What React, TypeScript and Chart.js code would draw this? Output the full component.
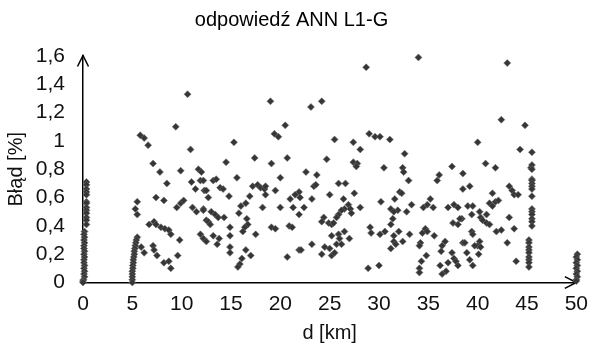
import { useEffect, useRef } from 'react';
import { Chart, registerables } from 'chart.js';

Chart.register(...registerables);

const chartTitle = 'odpowiedź ANN L1-G';
const xAxisTitle = 'd [km]';
const yAxisTitle = 'Błąd [%]';
const xMin = 0;
const xMax = 50;
const xStep = 5;
const yMin = 0;
const yMax = 1.6;
const yStep = 0.2;

// column of points at d = 0 km
const col0X = [0.35, 0.35, 0.35, 0.35, 0.35, 0.35, 0.35, 0.35, 0.35, 0.35, 0.35, 0.35, 0.35,
  0.15, 0.1, 0.15, 0.1, 0.15, 0.1, 0.1, 0.15, 0.1, 0.15, 0.1, 0.1, 0.15, 0.1, 0.15, 0.1, 0.15, 0.05, 0.0, 0.0];
const col0Y = [0.71, 0.69, 0.66, 0.64, 0.62, 0.57, 0.56, 0.53, 0.51, 0.49, 0.46, 0.44, 0.41,
  0.36, 0.34, 0.32, 0.3, 0.28, 0.26, 0.24, 0.22, 0.2, 0.18, 0.16, 0.14, 0.12, 0.1, 0.08, 0.06, 0.04, 0.02, 0.01, 0.0];

// column of points at d = 5 km
const col5X = [5.5, 5.3, 5.5, 5.5, 5.4, 5.35, 5.3, 5.25, 5.2, 5.2, 5.15, 5.1, 5.1, 5.05, 5.05, 5.0, 5.0, 5.0, 5.0, 5.0];
const col5Y = [0.57, 0.52, 0.48, 0.32, 0.3, 0.28, 0.26, 0.24, 0.22, 0.2, 0.18, 0.16, 0.14, 0.12, 0.1, 0.08, 0.06, 0.04, 0.02, 0.0];

// column of points at d = 45 km
const col45X = [45.5, 45.4, 45.5, 45.5, 45.5, 45.5, 45.5, 45.5, 45.5, 45.5, 45.5, 45.5, 45.5, 45.5, 45.5, 45.5,
  45.2, 45.2, 45.2, 45.2, 45.2, 45.2, 45.2, 45.2, 45.2];
const col45Y = [0.92, 0.81, 0.83, 0.8, 0.73, 0.72, 0.7, 0.68, 0.66, 0.61, 0.52, 0.5, 0.48, 0.45, 0.43, 0.4,
  0.3, 0.28, 0.25, 0.23, 0.21, 0.18, 0.16, 0.14, 0.11];

// column of points at d = 50 km
const col50X = [50.1, 50.0, 50.1, 50.0, 50.1, 50.0, 50.1, 50.0, 50.1, 50.0, 50.0];
const col50Y = [0.2, 0.18, 0.16, 0.14, 0.12, 0.1, 0.08, 0.06, 0.04, 0.02, 0.01];

// scattered points
const scatterX = [
  10.6, 9.4, 5.8, 6.2, 6.6, 10.9, 7.1, 11.7,
  19.0, 23.1, 24.2, 20.5, 19.4, 19.8, 15.3, 25.5, 14.5, 17.4, 19.1, 20.7, 24.7,
  28.7, 34.0, 27.4, 28.1, 29.0, 29.6, 30.1, 31.1, 32.6, 27.4, 27.8, 30.5, 32.4, 37.4,
  43.0, 42.4, 44.8, 40.0, 44.3, 40.8, 41.8,
  5.9, 6.2, 6.7, 7.2, 7.4, 7.9, 8.3, 8.7, 8.9, 7.1, 7.2, 7.5, 8.2, 8.7, 8.9, 9.6, 9.8, 7.4, 8.2, 9.5, 9.9, 10.2,
  7.8, 8.5, 9.9, 11.0, 11.9, 11.4, 12.3, 11.1, 11.5, 12.2, 12.5, 11.9, 12.2, 12.5, 12.0,
  12.2, 13.2, 13.5, 15.6, 12.5, 12.7, 13.9, 14.2, 14.8, 17.2, 17.7, 18.0, 18.4, 18.5, 18.5, 16.9, 20.0, 19.5,
  22.6, 23.7, 23.4, 23.6, 21.9, 21.5, 21.0, 22.0, 23.2, 25.0, 16.5, 16.0, 15.8, 18.2, 20.0, 21.3, 22.4, 21.9,
  12.2, 13.0, 13.4, 13.7, 14.3, 12.7, 12.9, 14.9, 16.6, 16.7, 16.4, 16.2, 17.5, 19.1, 19.5, 20.9, 21.2,
  13.2, 13.8, 13.6, 14.9, 14.9, 14.9, 16.5, 17.0, 16.1, 15.9, 15.7, 20.7, 21.9, 22.1, 23.2, 24.2, 24.5, 25.0,
  25.2, 25.5, 24.4, 24.9, 25.2, 24.2,
  27.7, 32.5, 33.0, 35.9, 36.1, 38.5, 38.5, 25.9, 26.6, 27.5, 26.4, 26.9, 26.5, 26.2, 27.1, 28.1, 25.9, 25.7,
  25.4, 27.2, 30.2, 31.6, 32.1, 32.3, 31.2, 31.9, 31.5, 31.4, 31.2, 32.8, 33.3, 34.5, 35.2, 34.9, 35.5, 37.0,
  37.6, 38.0, 38.4, 37.5, 38.0, 29.1, 29.2, 30.1, 30.6, 31.5, 31.5, 31.7, 31.2, 32.0, 32.4, 33.1, 34.4, 34.7,
  34.9, 35.6, 34.2, 34.1, 34.8, 34.3, 34.1, 34.1, 28.9, 30.0, 36.7, 36.4, 36.3, 37.4, 37.6, 37.0, 37.8, 38.0,
  36.2, 36.8, 36.4, 38.5, 25.2, 25.9, 25.7, 26.2, 26.5, 27.0, 26.0,
  39.2, 43.2, 43.5, 43.7, 44.1, 41.5, 41.2, 41.5, 41.8, 42.1, 39.0, 39.5, 39.4, 40.2, 40.3, 40.9, 40.5, 40.9,
  41.2, 38.2, 43.2, 41.9, 42.4, 43.7, 39.4, 39.5, 40.2, 40.0, 40.3, 39.7, 38.7, 43.0, 38.9, 40.1, 39.2, 39.5, 43.9,
];
const scatterY = [
  1.33, 1.1, 1.04, 1.02, 0.97, 0.94, 0.84, 0.8,
  1.28, 1.24, 1.28, 1.11, 1.05, 1.03, 0.99, 1.01, 0.85, 0.88, 0.84, 0.88, 0.87,
  1.52, 1.59, 0.99, 0.94, 1.05, 1.03, 1.03, 1.01, 0.91, 0.85, 0.84, 0.81, 0.81, 0.82,
  1.55, 1.15, 1.11, 0.99, 0.94, 0.84, 0.81,
  0.25, 0.21, 0.41, 0.43, 0.41, 0.39, 0.38, 0.37, 0.34, 0.26, 0.23, 0.19, 0.14, 0.15, 0.1, 0.19, 0.3, 0.6, 0.58, 0.53, 0.56, 0.58,
  0.78, 0.7, 0.79, 0.71, 0.72, 0.66, 0.65, 0.53, 0.5, 0.52, 0.44, 0.34, 0.31, 0.29, 0.78,
  0.72, 0.72, 0.73, 0.74, 0.65, 0.6, 0.67, 0.66, 0.61, 0.68, 0.69, 0.67, 0.66, 0.68, 0.62, 0.61, 0.74, 0.65,
  0.78, 0.76, 0.68, 0.69, 0.64, 0.62, 0.59, 0.6, 0.59, 0.62, 0.56, 0.54, 0.49, 0.53, 0.53, 0.53, 0.53, 0.48,
  0.51, 0.5, 0.48, 0.46, 0.46, 0.43, 0.41, 0.39, 0.45, 0.41, 0.39, 0.36, 0.34, 0.39, 0.38, 0.4, 0.39,
  0.33, 0.31, 0.27, 0.33, 0.25, 0.21, 0.23, 0.19, 0.17, 0.13, 0.11, 0.18, 0.23, 0.23, 0.27, 0.2, 0.25, 0.24,
  0.19, 0.21, 0.46, 0.42, 0.41, 0.43,
  0.82, 0.78, 0.72, 0.72, 0.76, 0.77, 0.66, 0.7, 0.7, 0.63, 0.59, 0.55, 0.52, 0.51, 0.52, 0.53, 0.48, 0.46,
  0.42, 0.49, 0.57, 0.59, 0.64, 0.63, 0.52, 0.51, 0.5, 0.45, 0.41, 0.5, 0.55, 0.53, 0.59, 0.55, 0.53, 0.53,
  0.55, 0.53, 0.45, 0.42, 0.41, 0.39, 0.35, 0.34, 0.36, 0.33, 0.29, 0.27, 0.24, 0.36, 0.29, 0.34, 0.35, 0.38,
  0.36, 0.33, 0.28, 0.26, 0.19, 0.15, 0.1, 0.07, 0.1, 0.12, 0.29, 0.26, 0.22, 0.21, 0.17, 0.14, 0.15, 0.12,
  0.12, 0.08, 0.06, 0.28, 0.33, 0.34, 0.27, 0.27, 0.36, 0.31, 0.31,
  0.68, 0.68, 0.65, 0.62, 0.62, 0.63, 0.56, 0.54, 0.57, 0.58, 0.54, 0.54, 0.48, 0.5, 0.46, 0.48, 0.44, 0.42,
  0.41, 0.45, 0.46, 0.36, 0.37, 0.38, 0.36, 0.34, 0.29, 0.26, 0.25, 0.26, 0.28, 0.28, 0.21, 0.2, 0.16, 0.12, 0.15,
];

const FONT = "'Liberation Sans', Arial, sans-serif";

const arrowPlugin = {
  id: 'axisArrows',
  beforeDatasetsDraw(chart: any) {
    const { ctx, chartArea } = chart;
    const { left, top, right, bottom } = chartArea;
    ctx.save();
    ctx.strokeStyle = '#000';
    ctx.lineWidth = 1.5;
    ctx.beginPath();
    ctx.moveTo(left - 5.5, top + 10.5);
    ctx.lineTo(left, top - 0.5);
    ctx.lineTo(left + 5.5, top + 10.5);
    ctx.moveTo(right - 11.5, bottom - 5.8);
    ctx.lineTo(right, bottom);
    ctx.lineTo(right - 11.5, bottom + 5.8);
    ctx.stroke();
    ctx.restore();
  },
};

function buildPoints() {
  const pts: { x: number; y: number }[] = [];
  const groups: [number[], number[]][] = [
    [col0X, col0Y],
    [col5X, col5Y],
    [scatterX, scatterY],
    [col45X, col45Y],
    [col50X, col50Y],
  ];
  for (const [xs, ys] of groups) {
    const n = Math.min(xs.length, ys.length);
    for (let i = 0; i < n; i++) pts.push({ x: xs[i], y: ys[i] });
  }
  return pts;
}

export default function App() {
  const ref = useRef<HTMLCanvasElement | null>(null);
  useEffect(() => {
    if (!ref.current) return;
    const chart = new Chart(ref.current, {
      type: 'scatter',
      data: {
        datasets: [
          {
            data: buildPoints(),
            pointStyle: 'rectRot',
            pointRadius: 3.5,
            pointHoverRadius: 3.5,
            backgroundColor: '#363636',
            borderColor: 'rgba(110,110,110,0.55)',
            borderWidth: 1,
            clip: false as any,
          },
        ],
      },
      options: {
        responsive: false,
        animation: false,
        events: [],
        layout: { padding: { left: 0, right: 14, top: 0, bottom: 0 } },
        plugins: {
          legend: { display: false },
          tooltip: { enabled: false },
          title: {
            display: true,
            text: chartTitle,
            color: '#000',
            font: { family: FONT, size: 20, weight: 'normal' },
            padding: { top: 8, bottom: 24 },
          },
        },
        scales: {
          x: {
            type: 'linear',
            min: xMin,
            max: xMax,
            ticks: {
              stepSize: xStep,
              color: '#111',
              font: { family: FONT, size: 21 },
              padding: 9,
              maxRotation: 0,
            },
            grid: { display: false, drawTicks: false },
            border: { display: true, color: '#000', width: 1.5 },
            title: {
              display: true,
              text: xAxisTitle,
              color: '#111',
              font: { family: FONT, size: 20 },
              padding: { top: 0, bottom: 2 },
            },
            afterFit(scale: any) {
              scale.height = 64.5;
            },
          },
          y: {
            type: 'linear',
            min: yMin,
            max: yMax,
            ticks: {
              stepSize: yStep,
              color: '#111',
              font: { family: FONT, size: 21 },
              padding: 18,
              callback: (v: any) => String(Math.round(Number(v) * 10) / 10).replace('.', ','),
            },
            grid: { display: false, drawTicks: false },
            border: { display: true, color: '#000', width: 1.5 },
            title: {
              display: true,
              text: yAxisTitle,
              color: '#111',
              font: { family: FONT, size: 20 },
              padding: { top: 4, bottom: 0 },
            },
            afterFit(scale: any) {
              scale.width = 83;
            },
          },
        },
      },
      plugins: [arrowPlugin],
    });
    return () => chart.destroy();
  }, []);
  return (
    <div style={{ position: 'absolute', left: 0, top: 0, width: 597, height: 347, background: '#fff' }}>
      <canvas ref={ref} width={597} height={347} style={{ display: 'block' }} />
    </div>
  );
}
